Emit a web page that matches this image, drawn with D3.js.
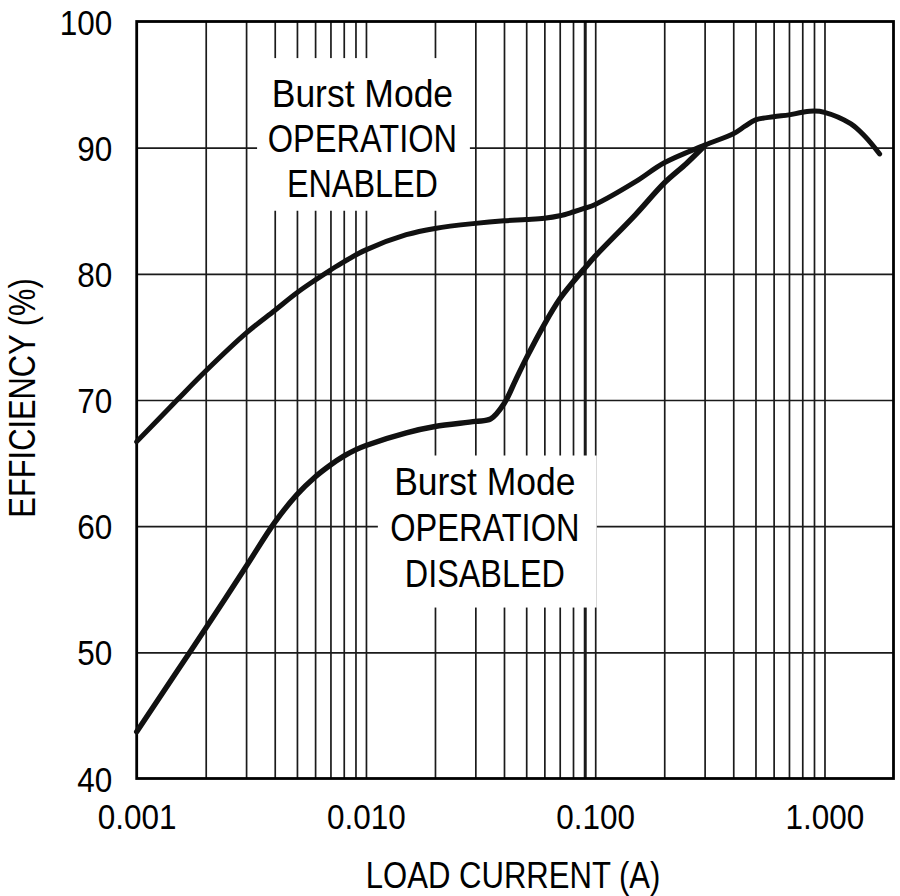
<!DOCTYPE html>
<html><head><meta charset="utf-8">
<script src="https://cdn.jsdelivr.net/npm/d3@7"></script>
<style>
html,body{margin:0;padding:0;background:#fff;}
svg{display:block;font-family:"Liberation Sans",Arial,sans-serif;}
</style></head><body>
<svg id="chart" width="900" height="896"></svg>
<script>
// ---- data ----
const xTickValues = [0.001, 0.01, 0.1, 1];
const yTickValues = [40, 50, 60, 70, 80, 90, 100];
const yGridValues = [50, 60, 70, 80, 90];
const decades = [0.001, 0.01, 0.1, 1];
const multipliers = [1, 2, 3, 4, 5, 6, 7, 8, 9];

const enabledCurrent = [0.001, 0.0015, 0.002, 0.003, 0.004, 0.005, 0.006, 0.007, 0.008, 0.01, 0.015, 0.02, 0.03, 0.04, 0.05, 0.06, 0.07, 0.08, 0.09, 0.1, 0.15, 0.2, 0.3, 0.4, 0.45, 0.5, 0.6, 0.7, 0.8, 0.9, 1.0, 1.3, 1.5, 1.74];
const enabledEff = [66.7, 70.0, 72.3, 75.3, 77.1, 78.5, 79.5, 80.3, 80.95, 81.9, 83.1, 83.6, 84.0, 84.2, 84.3, 84.4, 84.6, 84.9, 85.2, 85.5, 87.3, 88.8, 90.2, 91.1, 91.7, 92.2, 92.45, 92.6, 92.8, 92.9, 92.8, 91.9, 90.9, 89.5];

const disabledCurrent = [0.001, 0.0015, 0.002, 0.003, 0.004, 0.005, 0.006, 0.007, 0.008, 0.009, 0.01, 0.015, 0.02, 0.03, 0.035, 0.04, 0.045, 0.05, 0.06, 0.07, 0.08, 0.09, 0.1, 0.15, 0.2, 0.25, 0.3];
const disabledEff = [43.7, 48.5, 51.9, 56.8, 60.3, 62.5, 63.9, 64.85, 65.55, 66.05, 66.4, 67.4, 67.9, 68.3, 68.5, 69.7, 71.6, 73.3, 76.0, 78.0, 79.35, 80.45, 81.4, 84.7, 87.2, 88.75, 90.15];

const enabledLabel = ["Burst Mode", "OPERATION", "ENABLED"];
const disabledLabel = ["Burst Mode", "OPERATION", "DISABLED"];
const xTitle = "LOAD CURRENT (A)";
const yTitle = "EFFICIENCY (%)";

// ---- layout ----
const svg = d3.select("#chart");
const mLeft = 136.7, mRight = 893.5, mTop = 21.5, mBottom = 778.5;
const x = d3.scaleLog().domain([0.001, 2]).range([mLeft, mRight]);
const y = d3.scaleLinear().domain([40, 100]).range([mBottom, mTop]);

const minorValues = decades.flatMap(d => multipliers.map(m => +(d * m).toPrecision(3)))
  .filter(v => v > 0.001 && v < 2);

// vertical grid
const gx = svg.append("g").attr("transform", `translate(0,${mBottom})`)
  .call(d3.axisBottom(x).tickValues(minorValues).tickSize(-(mBottom - mTop)).tickFormat(""));
gx.select(".domain").remove();
gx.selectAll("line").attr("stroke", "#1a1a1a")
  .attr("stroke-width", d => Math.abs(d - 0.09) < 1e-9 ? 3 : 1.7);

// horizontal grid
const gy = svg.append("g").attr("transform", `translate(${mLeft},0)`)
  .call(d3.axisLeft(y).tickValues(yGridValues).tickSize(-(mRight - mLeft)).tickFormat(""));
gy.select(".domain").remove();
gy.selectAll("line").attr("stroke", "#1a1a1a").attr("stroke-width", 1.7);

// label boxes (white, interrupting grid)
function box(x0, x1, y0, y1) {
  svg.append("rect")
    .attr("x", x(x0)).attr("y", y(y0))
    .attr("width", x(x1) - x(x0)).attr("height", y(y1) - y(y0))
    .attr("fill", "#fff");
}
box(0.00335, 0.0284, 97.1, 85.0);
box(0.01127, 0.1015, 65.6, 53.55);

// frame
svg.append("rect").attr("x", mLeft).attr("y", mTop)
  .attr("width", mRight - mLeft).attr("height", mBottom - mTop)
  .attr("fill", "none").attr("stroke", "#000").attr("stroke-width", 2.8);

// curves
const line = d3.line().x(d => x(d[0])).y(d => y(d[1])).curve(d3.curveCatmullRom.alpha(0.5));
svg.append("path").datum(d3.zip(disabledCurrent, disabledEff))
  .attr("d", line).attr("fill", "none").attr("stroke", "#111")
  .attr("stroke-width", 5.4).attr("stroke-linecap", "round").attr("stroke-linejoin", "round");
svg.append("path").datum(d3.zip(enabledCurrent, enabledEff))
  .attr("d", line).attr("fill", "none").attr("stroke", "#111")
  .attr("stroke-width", 5).attr("stroke-linecap", "round").attr("stroke-linejoin", "round");

// axes labels
const ax = svg.append("g").attr("transform", `translate(0,${mBottom})`)
  .call(d3.axisBottom(x).tickValues(xTickValues).tickSize(0).tickFormat(d3.format(".3f")));
ax.select(".domain").remove();
ax.selectAll("text").attr("y", 50.5).attr("dy", 0)
  .attr("font-size", 35).attr("font-family", "Liberation Sans, Arial, sans-serif")
  .attr("fill", "#000").attr("transform", "scale(0.9,1)");

const ay = svg.append("g").attr("transform", `translate(${mLeft},0)`)
  .call(d3.axisLeft(y).tickValues(yTickValues).tickSize(0).tickFormat(d3.format("d")));
ay.select(".domain").remove();
ay.selectAll("text").attr("x", 0).attr("dy", "0.36em")
  .attr("font-size", 35).attr("font-family", "Liberation Sans, Arial, sans-serif")
  .attr("fill", "#000").attr("text-anchor", "end")
  .attr("transform", "translate(-24.5,0) scale(0.9,1)");

svg.append("text")
  .attr("transform", `translate(${(mLeft + mRight) / 2 - 2},888) scale(0.84,1)`)
  .attr("text-anchor", "middle").attr("font-size", 37).attr("fill", "#000")
  .text(xTitle);

svg.append("text")
  .attr("transform", `translate(35,${(mTop + mBottom) / 2 - 2}) rotate(-90) scale(0.834,1)`)
  .attr("text-anchor", "middle").attr("font-size", 37).attr("fill", "#000")
  .text(yTitle);

// annotations
const lineScales = [0.91, 0.835, 0.83];
function label(lines, cx, firstY, gap) {
  lines.forEach((t, i) => {
    svg.append("text")
      .attr("transform", `translate(${x(cx)},${y(firstY) + i * gap}) scale(${lineScales[i]},1)`)
      .attr("text-anchor", "middle").attr("font-size", 39).attr("fill", "#000")
      .text(t);
  });
}
label(enabledLabel, 0.00965, 93.25, 45);
label(disabledLabel, 0.033, 62.47, 45.8);
</script>
</body></html>
